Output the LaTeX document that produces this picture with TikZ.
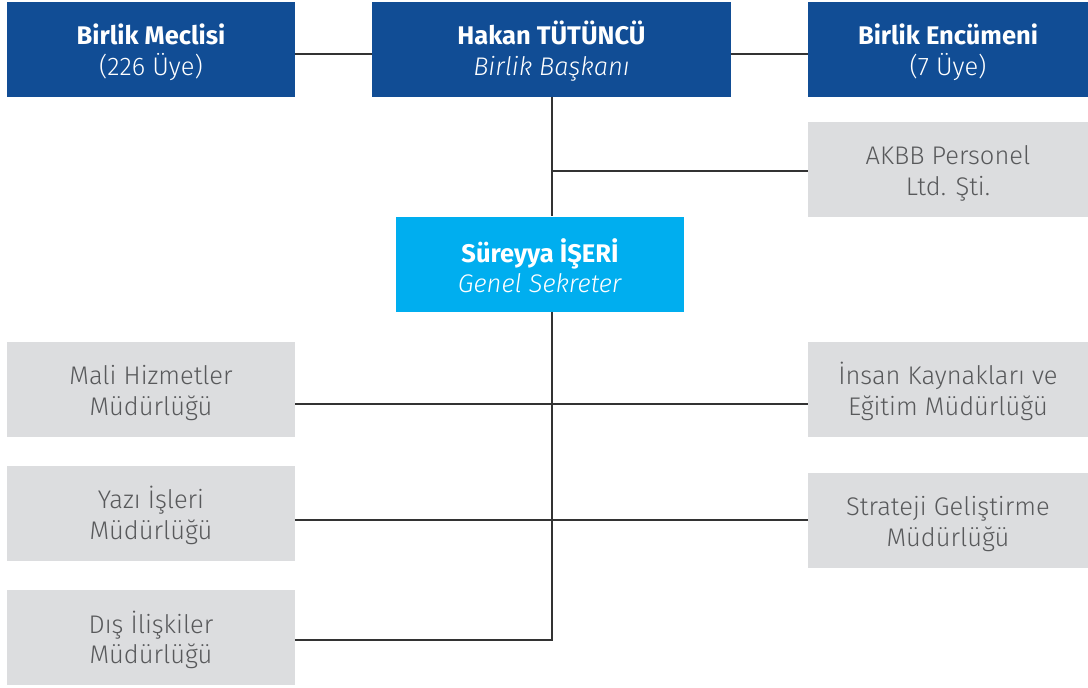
\documentclass[tikz,border=0pt]{standalone}
\usepackage{fontspec}
\setmainfont{Fira Sans Light}[BoldFont={Fira Sans Bold}, ItalicFont={Fira Sans Light Italic}]
\definecolor{navy}{HTML}{114D95}
\definecolor{sky}{HTML}{00AEEF}
\definecolor{pale}{HTML}{DCDDDF}
\definecolor{ink}{HTML}{58595B}
\definecolor{wire}{HTML}{333333}
\begin{document}
\begin{tikzpicture}[x=1pt, y=-1pt,
            box/.style={inner sep=0pt, minimum height=95pt, text height=58pt, align=center, font=\fontsize{25.5}{30.5}\selectfont},
            head/.style={box, fill=navy, text=white},
            second/.style={box, fill=sky, text=white},
            unit/.style={box, fill=pale, text=ink, minimum width=288pt},
            link/.style={draw=wire, line width=2pt}]
            \useasboundingbox (0,0) rectangle (1088,688);
            % top row
            \node[head, minimum width=288pt] (meclis) at (151,49) {\textbf{Birlik Meclisi}\\(226 Üye)};
            \node[head, minimum width=359pt] (baskan) at (551.5,49) {\textbf{Hakan TÜTÜNCÜ}\\\textit{Birlik Başkanı}};
            \node[head, minimum width=280pt] (encumen) at (948,49) {\textbf{Birlik Encümeni}\\(7 Üye)};
            \node[unit, minimum width=280pt] (akbb) at (948,169) {AKBB Personel\\Ltd. Şti.};
            \node[second, minimum width=288pt] (sekreter) at (540,264) {\textbf{Süreyya İŞERİ}\\\textit{Genel Sekreter}};
            % units
            \node[unit] (mali) at (151,389) {Mali Hizmetler\\Müdürlüğü};
            \node[unit, minimum width=280pt] (insan) at (948,389) {İnsan Kaynakları ve\\Eğitim Müdürlüğü};
            \node[unit] (yazi) at (151,513) {Yazı İşleri\\Müdürlüğü};
            \node[unit, minimum width=280pt] (strateji) at (948,520) {Strateji Geliştirme\\Müdürlüğü};
            \node[unit] (dis) at (151,637.5) {Dış İlişkiler\\Müdürlüğü};
            \coordinate (top) at (552,54);
            \coordinate (akbbjoin) at (552,171);
            \coordinate (rowA) at (552,404);
            \coordinate (rowB) at (552,520);
            \coordinate (rowC) at (552,640);
            \draw[link] (meclis.east |- top) -- (baskan.west |- top);
            \draw[link] (baskan.east |- top) -- (encumen.west |- top);
            \draw[link] (top |- baskan.south) -- (top |- sekreter.north);
            \draw[link] (akbbjoin) -- (akbb.west |- akbbjoin);
            \draw[link] (top |- sekreter.south) -- (rowC) -- (dis.east |- rowC);
            \draw[link] (mali.east |- rowA) -- (insan.west |- rowA);
            \draw[link] (yazi.east |- rowB) -- (strateji.west |- rowB);
            \end{tikzpicture}
\end{document}
